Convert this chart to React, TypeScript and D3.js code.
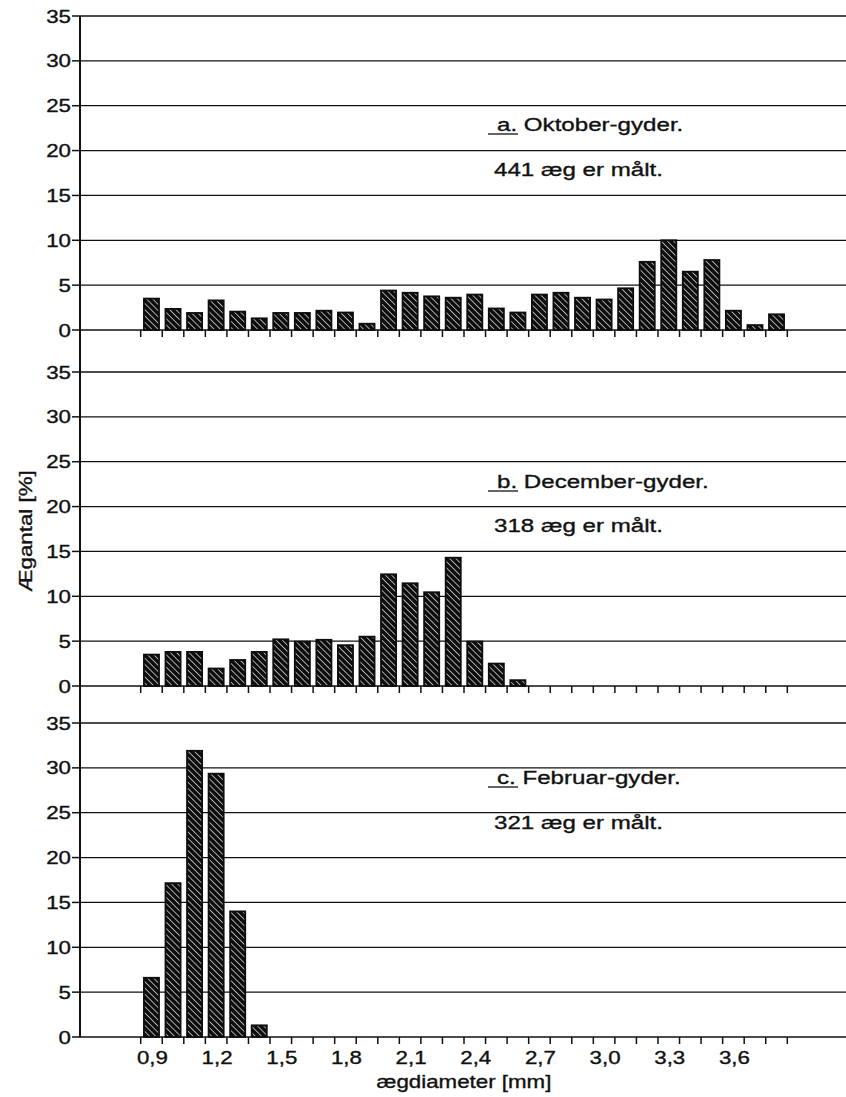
import React from "react";
import * as d3 from "d3";

const categories: number[] = [
  0.9, 1.0, 1.1, 1.2, 1.3, 1.4, 1.5, 1.6, 1.7, 1.8, 1.9, 2.0, 2.1, 2.2, 2.3,
  2.4, 2.5, 2.6, 2.7, 2.8, 2.9, 3.0, 3.1, 3.2, 3.3, 3.4, 3.5, 3.6, 3.7, 3.8,
];
const tickLabels: number[] = [0.9, 1.2, 1.5, 1.8, 2.1, 2.4, 2.7, 3.0, 3.3, 3.6];
const yTicks: number[] = [0, 5, 10, 15, 20, 25, 30, 35];

const oktoberValues: number[] = [
  3.5, 2.35, 1.9, 3.3, 2.05, 1.3, 1.9, 1.9, 2.15, 1.95, 0.7, 4.4, 4.15, 3.75,
  3.6, 3.95, 2.4, 1.95, 3.95, 4.15, 3.6, 3.4, 4.65, 7.6, 10.0, 6.5, 7.8, 2.15,
  0.55, 1.75,
];
const decemberValues: number[] = [
  3.5, 3.8, 3.8, 1.95, 2.9, 3.8, 5.2, 4.95, 5.15, 4.55, 5.5, 12.45, 11.45,
  10.45, 14.3, 4.95, 2.5, 0.65,
];
const februarValues: number[] = [6.6, 17.15, 31.9, 29.35, 14.0, 1.3];

const panelTitles: string[] = ["a. Oktober-gyder.", "b. December-gyder.", "c. Februar-gyder."];
const panelCounts: string[] = ["441 æg er målt.", "318 æg er målt.", "321 æg er målt."];

const W = 846;
const H = 1097;
const AXIS_X = 80;
const FONT = "'Liberation Sans', Arial, Helvetica, sans-serif";
const SX = 1.24;

const panels = [
  { values: oktoberValues, top: 16, bottom: 330, titleY: 131, countY: 176 },
  { values: decemberValues, top: 372, bottom: 686, titleY: 488, countY: 532 },
  { values: februarValues, top: 723, bottom: 1037, titleY: 784, countY: 829 },
];

export default function App() {
  const x = d3
    .scaleBand<number>()
    .domain(categories)
    .range([140.7, 787.3])
    .paddingInner(0.3)
    .paddingOuter(0.15);
  const step = x.step();
  const bw = x.bandwidth();
  const boundaries = categories.map((c) => (x(c) as number) + bw / 2 - step / 2);
  boundaries.push((x(categories[categories.length - 1]) as number) + bw / 2 + step / 2);
  const fmt = (v: number) => v.toFixed(1).replace(".", ",");
  const textProps = {
    fontFamily: FONT,
    fill: "#111",
    stroke: "#111",
    strokeWidth: 0.35,
  };

  return (
    <div style={{ position: "absolute", left: 0, top: 0 }}>
      <svg width={W} height={H} style={{ display: "block", background: "#fff" }}>
        <defs>
          <pattern
            id="hatch"
            patternUnits="userSpaceOnUse"
            width={4.4}
            height={4.4}
            patternTransform="rotate(-45)"
          >
            <rect width={4.4} height={4.4} fill="#0d0d0d" />
            <line x1={2.2} y1={0} x2={2.2} y2={4.4} stroke="#e8e8e8" strokeWidth={0.7} />
          </pattern>
        </defs>
        {panels.map((p, pi) => {
          const y = d3.scaleLinear().domain([0, 35]).range([p.bottom, p.top]);
          return (
            <g key={pi}>
              {yTicks.map((t) => (
                <g key={t}>
                  <line
                    x1={AXIS_X}
                    x2={W}
                    y1={y(t)}
                    y2={y(t)}
                    stroke="#111"
                    strokeWidth={t === 0 ? 1.7 : 1.3}
                  />
                  <line x1={AXIS_X - 8} x2={AXIS_X} y1={y(t)} y2={y(t)} stroke="#111" strokeWidth={1.5} />
                  <text
                    transform={`translate(${AXIS_X - 9},${y(t) + 6.5}) scale(${SX},1)`}
                    textAnchor="end"
                    fontSize={18}
                    {...textProps}
                  >
                    {t}
                  </text>
                </g>
              ))}
              {boundaries.map((b, i) => (
                <line
                  key={i}
                  x1={b}
                  x2={b}
                  y1={p.bottom}
                  y2={p.bottom + 7}
                  stroke="#111"
                  strokeWidth={1.5}
                />
              ))}
              {p.values.map((v, i) => {
                const c = categories[i];
                return (
                  <rect
                    key={i}
                    x={x(c)}
                    y={y(v)}
                    width={bw}
                    height={p.bottom - y(v)}
                    fill="url(#hatch)"
                    stroke="#0d0d0d"
                    strokeWidth={1.8}
                  />
                );
              })}
              <line x1={488} x2={518} y1={p.titleY + 3} y2={p.titleY + 3} stroke="#111" strokeWidth={1.3} />
              <text
                transform={`translate(497,${p.titleY}) scale(1.27,1)`}
                fontSize={19}
                {...textProps}
              >
                {panelTitles[pi]}
              </text>
              <text
                transform={`translate(494,${p.countY}) scale(1.27,1)`}
                fontSize={19}
                {...textProps}
              >
                {panelCounts[pi]}
              </text>
            </g>
          );
        })}
        <line x1={AXIS_X} x2={AXIS_X} y1={16} y2={1037} stroke="#111" strokeWidth={2} />
        {tickLabels.map((t) => {
          const cx = (x(t) as number) + bw / 2 + 1;
          return (
            <text
              key={t}
              transform={`translate(${cx},1064) scale(${SX},1)`}
              textAnchor="middle"
              fontSize={18}
              {...textProps}
            >
              {fmt(t)}
            </text>
          );
        })}
        <text
          transform={`translate(464,1088) scale(${SX},1)`}
          textAnchor="middle"
          fontSize={18}
          {...textProps}
        >
          ægdiameter [mm]
        </text>
        <text
          transform={`translate(32,531) rotate(-90) scale(${SX},1)`}
          textAnchor="middle"
          fontSize={18}
          {...textProps}
        >
          Ægantal [%]
        </text>
      </svg>
    </div>
  );
}
